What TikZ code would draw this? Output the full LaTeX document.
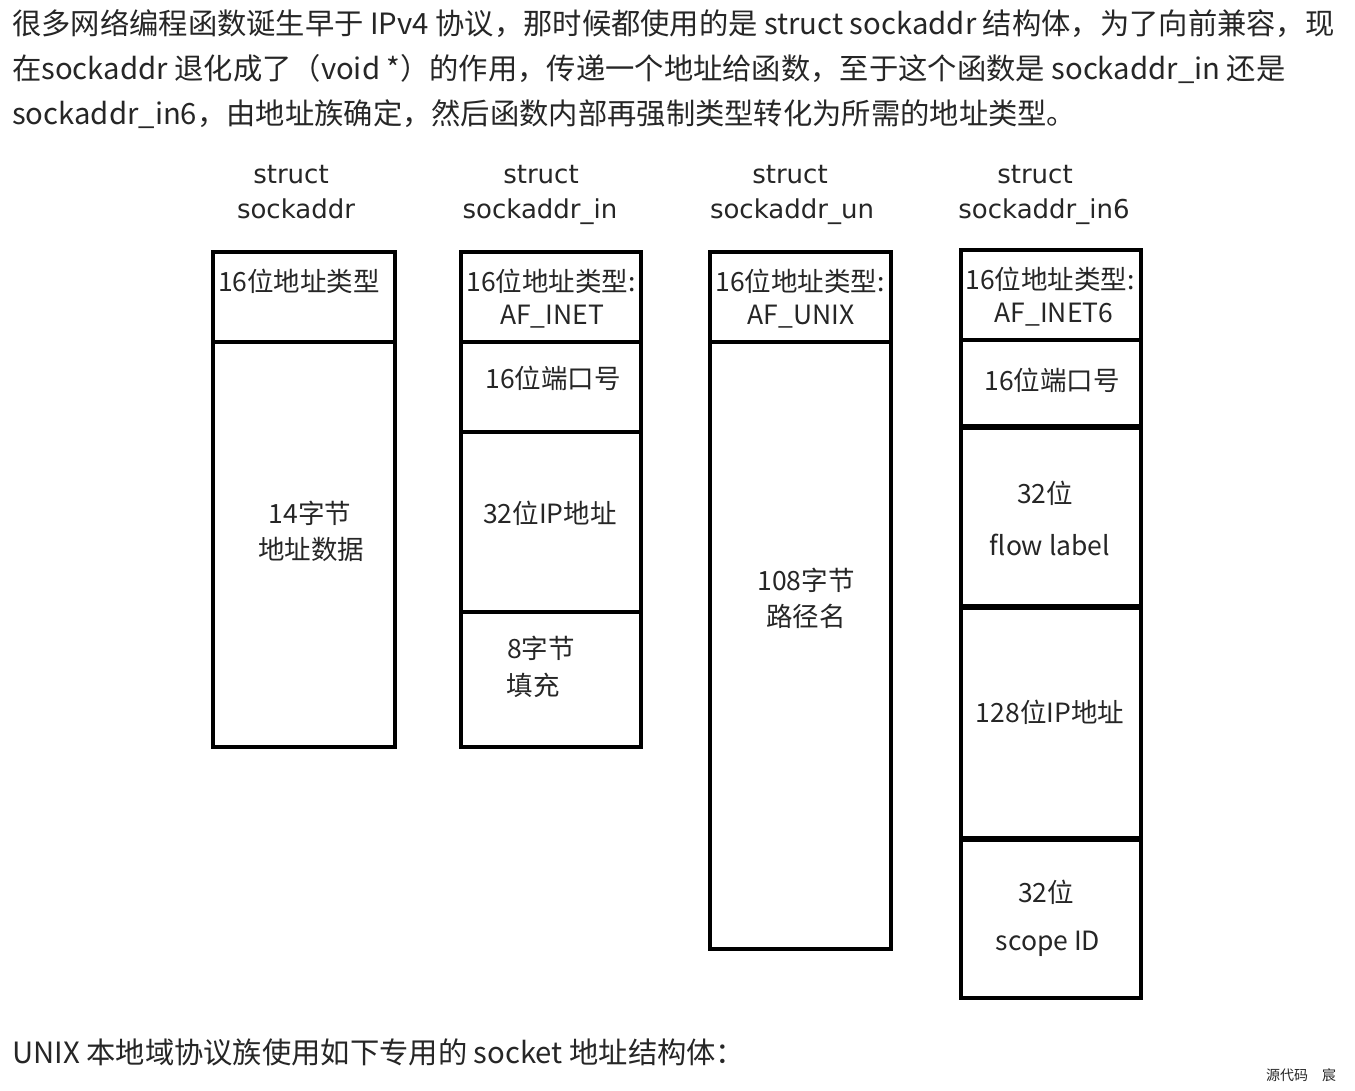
\documentclass[tikz,border=0pt]{standalone}
\usepackage{fontspec}
\setmainfont{Noto Sans CJK SC}
\newfontfamily\titlefont{DejaVu Sans}
\begin{document}
\begin{tikzpicture}[x=1pt,y=-1pt,
  para/.style={anchor=base west,inner sep=0pt,font=\fontsize{29.3}{34}\selectfont,text=black!85},
  lbl/.style={inner sep=0pt,font=\fontsize{26.5}{30}\selectfont,text=black!85},
  ttl/.style={anchor=base,inner sep=0pt,font=\titlefont\fontsize{26}{30}\selectfont,text=black!85},
  frame/.style={line width=3.5pt},
  div/.style={line width=3.5pt},
  thick div/.style={line width=6pt}]
\useasboundingbox[fill=white] (0,0) rectangle (1355,1091);
% paragraph
\node[para] (p1) at (12,35) {很多网络编程函数诞生早于 IPv4 协议，那时候都使用的是 struct sockaddr 结构体，为了向前兼容，现};
\node[para] (p2) at (12,80) {在sockaddr 退化成了（void *）的作用，传递一个地址给函数，至于这个函数是 sockaddr\_in 还是};
\node[para] (p3) at (12,125) {sockaddr\_in6，由地址族确定，然后函数内部再强制类型转化为所需的地址类型。};
\node[para] (p4) at (12,1063) {UNIX 本地域协议族使用如下专用的 socket 地址结构体：};
\node[anchor=base west,inner sep=0pt,font=\fontsize{14}{16}\selectfont,text=black!85] (wm) at (1266,1080) {源代码\quad 宸};
% titles
\node[ttl] (t1a) at (291,184) {struct};
\node[ttl] (t1b) at (296,219) {sockaddr};
\node[ttl] (t2a) at (541,184) {struct};
\node[ttl] (t2b) at (540,219) {sockaddr\_in};
\node[ttl] (t3a) at (790,184) {struct};
\node[ttl] (t3b) at (792,219) {sockaddr\_un};
\node[ttl] (t4a) at (1035,184) {struct};
\node[ttl] (t4b) at (1044,219) {sockaddr\_in6};
% box 1
\draw[frame] (213,252) rectangle (395,747);
\draw[div] (213,342) -- (395,342);
\node[lbl] (b1a) at (299,281) {16位地址类型};
\node[lbl] (b1b) at (310,513) {14字节};
\node[lbl] (b1c) at (311,549) {地址数据};
% box 2
\draw[frame] (461,252) rectangle (641,747);
\draw[div] (461,342) -- (641,342);
\draw[div] (461,432) -- (641,432);
\draw[div] (461,612) -- (641,612);
\node[lbl] (b2a) at (551,281) {16位地址类型:};
\node[lbl] (b2b) at (552,317) {AF\_INET};
\node[lbl] (b2c) at (553,378) {16位端口号};
\node[lbl] (b2d) at (550,513) {32位IP地址};
\node[lbl] (b2e) at (541,648) {8字节};
\node[lbl] (b2f) at (533,685) {填充};
% box 3
\draw[frame] (710,252) rectangle (891,949);
\draw[div] (710,342) -- (891,342);
\node[lbl] (b3a) at (800,281) {16位地址类型:};
\node[lbl] (b3b) at (801,317) {AF\_UNIX};
\node[lbl] (b3c) at (806,580) {108字节};
\node[lbl] (b3d) at (806,616) {路径名};
% box 4
\draw[frame] (961,250) rectangle (1141,998);
\draw[div] (961,340) -- (1141,340);
\draw[thick div] (961,427) -- (1141,427);
\draw[thick div] (961,607) -- (1141,607);
\draw[thick div] (961,839) -- (1141,839);
\node[lbl] (b4a) at (1050,279) {16位地址类型:};
\node[lbl] (b4b) at (1054,315) {AF\_INET6};
\node[lbl] (b4c) at (1052,380) {16位端口号};
\node[lbl] (b4d) at (1045,493) {32位};
\node[lbl] (b4e) at (1050,545) {flow label};
\node[lbl] (b4f) at (1050,712) {128位IP地址};
\node[lbl] (b4g) at (1046,892) {32位};
\node[lbl] (b4h) at (1048,944) {scope ID};
\end{tikzpicture}
\end{document}
